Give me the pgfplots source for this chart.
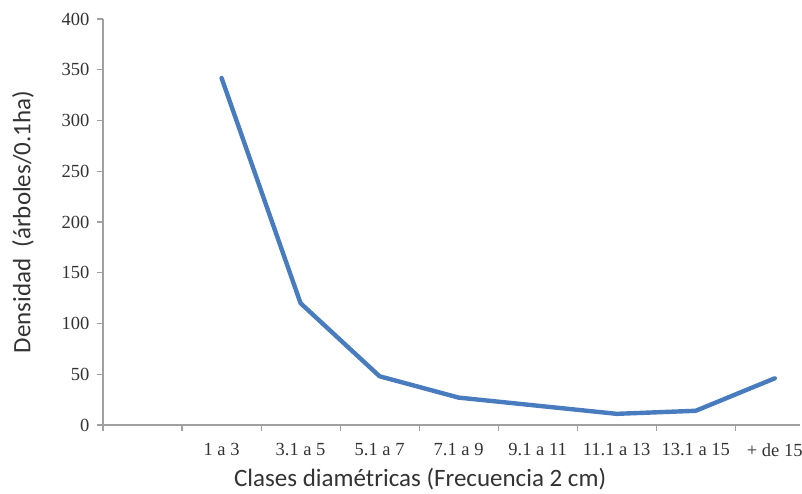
\documentclass[border=0pt]{standalone}
\usepackage{pgfplots}
\pgfplotsset{compat=1.18}
\usepackage{fontspec}
\setmainfont{Liberation Serif}
\newfontfamily\labelfont{Carlito}
\definecolor{lineblue}{RGB}{72,124,190}
\definecolor{axgray}{RGB}{160,160,160}
\begin{document}
\begin{tikzpicture}
\begin{axis}[
  name=ax, at={(0,0)}, anchor=south west,
  scale only axis, width=697pt, height=406pt,
  xmin=-0.5, xmax=8.32, ymin=0, ymax=400,
  axis x line*=bottom, axis y line*=left,
  axis line style={axgray, line width=1.1pt},
  every tick/.style={axgray, line width=1.1pt},
  tick align=outside,
  ytick={0,50,...,400},
  xtick={1,2,3,4,5,6,7,8},
  xticklabels={1 a 3, 3.1 a 5, 5.1 a 7, 7.1 a 9, 9.1 a 11, 11.1 a 13, 13.1 a 15, + de 15},
  major x tick style={draw=none},
  minor xtick={-0.5,0.5,1.5,2.5,3.5,4.5,5.5,6.5,7.5},
  minor tick length=6pt,
  major tick length=6pt,
  /pgf/number format/assume math mode=true,
  tick label style={font=\fontsize{18.5}{20}\selectfont, text=black!80},
  yticklabel style={xshift=-4pt},
  xticklabel style={yshift=-9pt},
  xlabel={Clases diamétricas (Frecuencia 2 cm)},
  ylabel={Densidad\ \ (árboles/0.1ha)},
  label style={font=\labelfont\fontsize{25}{28}\selectfont, text=black!80},
  xlabel style={at={(axis description cs:0.455,0)}, anchor=north, yshift=-40pt},
  ylabel style={at={(axis description cs:-0.1148,0.5)}, anchor=center},
  clip=false,
]
\addplot[lineblue, line width=4.4pt, line join=round, line cap=round] coordinates {
  (1,342) (2,120) (3,48) (4,27) (5,19) (6,11) (7,14) (8,46)
};
\end{axis}
\pgfresetboundingbox
\path (ax.south west) ++(-103pt,-68pt) rectangle ++(802pt,493pt);
\end{tikzpicture}
\end{document}
